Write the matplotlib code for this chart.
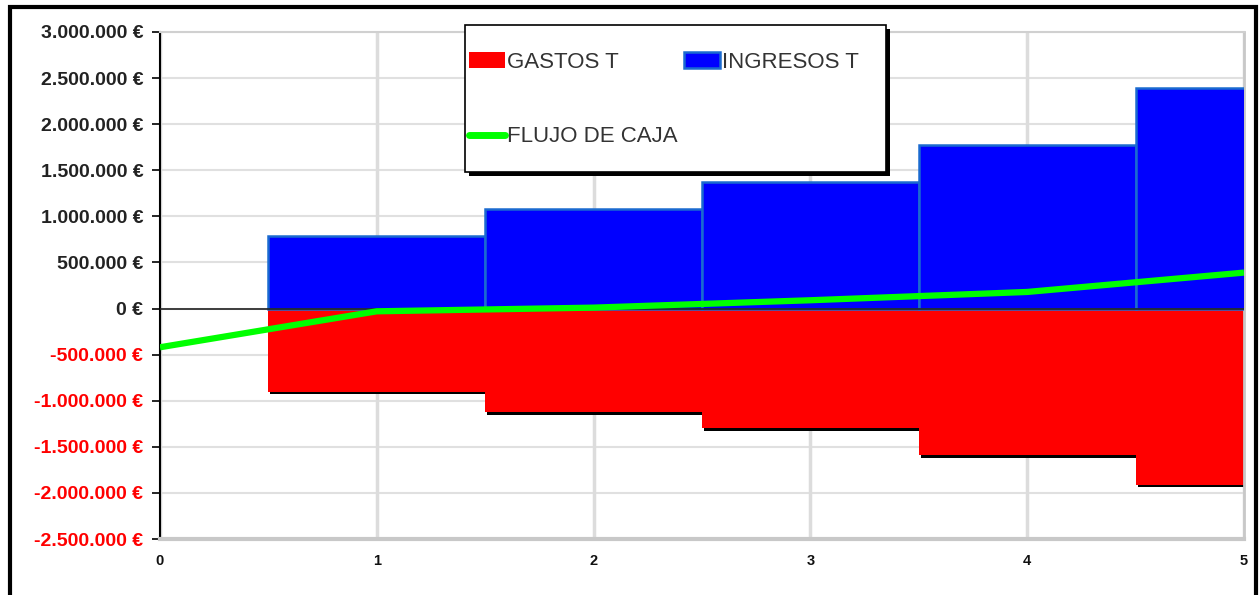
import matplotlib
matplotlib.use("Agg")
import matplotlib.pyplot as plt
import matplotlib.patheffects as pe
from matplotlib.patches import Rectangle, Patch
from matplotlib.lines import Line2D
from matplotlib.ticker import FuncFormatter

plt.rcParams['font.family'] = ['Liberation Sans', 'DejaVu Sans']

periods = [1, 2, 3, 4, 5]
gastos = [-900000, -1120000, -1300000, -1590000, -1910000]
ingresos = [790000, 1080000, 1370000, 1770000, 2390000]
flujo_x = [0, 1, 2, 3, 4, 5]
flujo = [-420000, -30000, 10000, 90000, 180000, 390000]
y_ticks = [-2500000, -2000000, -1500000, -1000000, -500000, 0,
           500000, 1000000, 1500000, 2000000, 2500000, 3000000]
x_ticks = [0, 1, 2, 3, 4, 5]

RED = '#ff0000'
BLUE = '#0000ff'
BLUE_EDGE = '#1a6ad0'
GREEN = '#00ff00'

fig = plt.figure(figsize=(12.6, 5.95), dpi=100)
ax = fig.add_axes([160/1260, 1-539/595, (1244-160)/1260, (539-32)/595])

# grid
for yv in y_ticks:
    ax.axhline(yv, color='#e0e0e0', lw=1.5, zorder=0)
for xv in x_ticks:
    ax.axvline(xv, color='#dcdcdc', lw=2.5, zorder=0)

ax.bar(periods, gastos, width=1.0, color=RED, edgecolor='none', zorder=2,
       path_effects=[pe.SimplePatchShadow(offset=(1.5, -2), shadow_rgbFace='black', alpha=1), pe.Normal()])
ax.bar(periods, ingresos, width=1.0, color=BLUE, edgecolor=BLUE_EDGE, lw=1.8, zorder=3)
ax.axhline(0, color='#222222', lw=1.2, zorder=4)
ax.plot(flujo_x, flujo, color=GREEN, lw=4.5, solid_capstyle='butt', zorder=5)

ax.set_xlim(0, 5)
ax.set_ylim(-2500000, 3000000)
ax.set_yticks(y_ticks)
ax.set_xticks(x_ticks)

def fmt(v, pos):
    s = f"{abs(int(v)):,}".replace(',', '.')
    return ("-" if v < 0 else "") + s + " €"
ax.yaxis.set_major_formatter(FuncFormatter(fmt))
ax.tick_params(axis='y', labelsize=14, length=6, width=1.2, color='black', pad=6)
for lab, v in zip(ax.get_yticklabels(), y_ticks):
    lab.set_fontweight('bold')
    lab.set_color('#ff0000' if v < 0 else '#222222')
ax.tick_params(axis='x', labelsize=10.5, length=0, pad=11)
for lab in ax.get_xticklabels():
    lab.set_fontweight('bold')
    lab.set_color('#111111')

ax.spines['left'].set_color('black')
ax.spines['left'].set_linewidth(1.5)
ax.spines['bottom'].set_color('#c8c8c8')
ax.spines['bottom'].set_linewidth(3)
ax.spines['top'].set_color('#d0d0d0')
ax.spines['top'].set_linewidth(1.5)
ax.spines['right'].set_color('#c8c8c8')
ax.spines['right'].set_linewidth(2)

# legend frame with shadow
fig.patches.append(Rectangle((469/1260, 1-176/595), (886-465)/1260, (172-25)/595,
                             transform=fig.transFigure, facecolor='black',
                             edgecolor='black', lw=0, zorder=8))
fig.patches.append(Rectangle((465/1260, 1-172/595), (886-465)/1260, (172-25)/595,
                             transform=fig.transFigure, facecolor='white',
                             edgecolor='black', lw=1.2, zorder=9))

handles = [Patch(facecolor=RED, edgecolor='none'),
           Line2D([], [], color=GREEN, lw=5, solid_capstyle='round'),
           Patch(facecolor=BLUE, edgecolor=BLUE_EDGE, lw=1.8)]
labels = ['GASTOS T', 'FLUJO DE CAJA', 'INGRESOS T']
leg = fig.legend(handles, labels, loc='upper left',
                 bbox_to_anchor=(469/1260, 1-52/595), ncol=2,
                 fontsize=16, frameon=False,
                 handlelength=1.6, handletextpad=0.1, columnspacing=0.3,
                 labelspacing=2.4, borderpad=0, borderaxespad=0)
leg.set_zorder(10)
for t in leg.get_texts():
    t.set_color('#333333')

fig.patches.append(Rectangle((10/1260, -0.05), (1256-10)/1260, 1.05-7/595,
                             transform=fig.transFigure, fill=False,
                             edgecolor='black', lw=3))

fig.savefig('out.png', dpi=100)
